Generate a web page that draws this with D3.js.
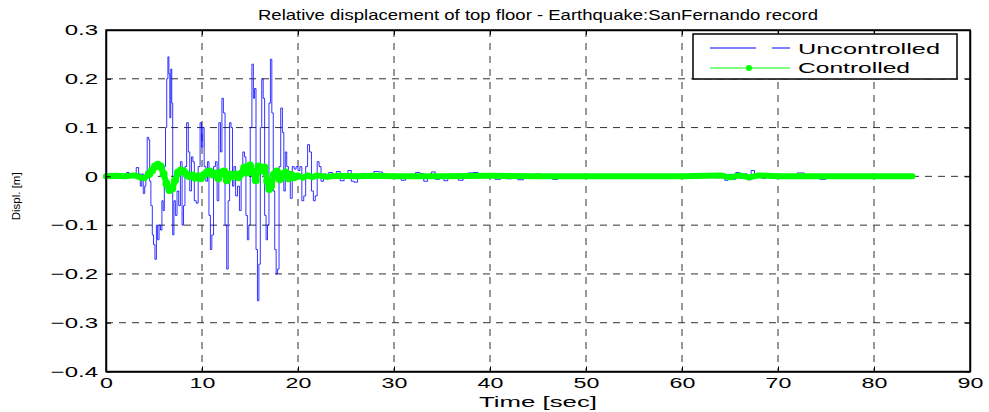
<!DOCTYPE html>
<html>
<head>
<meta charset="utf-8">
<script src="https://cdn.jsdelivr.net/npm/d3@7"></script>
<style>
  body { margin: 0; background: #fff; }
  svg { display: block; }
</style>
</head>
<body>
<div id="chart"></div>
<script>
// values: [time sec, displacement m]
const uncontrolled = [
  [0, 0], [0.5, 0.001], [1.0, 0], [1.5, 0.002], [2.0, 0.001], [2.3, 0.008], [2.5, 0.002],
  [3.0, 0.004], [3.3, 0.018], [3.5, 0.005], [3.65, -0.02], [3.8, 0.005], [3.96, -0.035],
  [4.1, -0.02], [4.2, 0.01], [4.38, 0.08], [4.5, 0.075], [4.6, -0.01], [4.75, -0.06],
  [4.9, -0.12], [5.0, -0.14], [5.2, -0.17], [5.3, -0.1], [5.45, -0.13], [5.6, -0.1],
  [5.75, -0.11], [5.9, -0.05], [6.0, -0.07], [6.15, 0.02], [6.25, 0.1], [6.4, 0.2],
  [6.5, 0.245], [6.6, 0.21], [6.7, 0.12], [6.8, 0.22], [6.9, 0.15], [7.0, -0.12],
  [7.15, -0.05], [7.3, -0.08], [7.5, -0.03], [7.65, -0.06], [7.85, 0.03], [8.0, -0.1],
  [8.15, -0.06], [8.3, 0.02], [8.5, 0.11], [8.65, 0.05], [8.8, -0.03], [9.0, 0.04],
  [9.1, 0.03], [9.3, -0.05], [9.5, -0.055], [9.7, 0.02], [9.9, 0.11], [10.0, 0.06],
  [10.15, 0.1], [10.3, 0.02], [10.5, -0.01], [10.65, 0.03], [10.8, -0.08], [10.95, -0.15],
  [11.1, -0.12], [11.3, 0.02], [11.5, 0.03], [11.65, -0.05], [11.85, 0.11], [12.0, 0.05],
  [12.15, 0.16], [12.3, 0.13], [12.5, -0.1], [12.65, -0.19], [12.8, -0.05], [12.95, 0.11],
  [13.1, 0.1], [13.25, -0.02], [13.4, 0.02], [13.6, -0.04], [13.8, -0.02], [14.0, -0.07],
  [14.15, 0.0], [14.35, 0.05], [14.5, 0.04], [14.65, -0.08], [14.8, -0.13], [14.95, -0.1],
  [15.1, 0.1], [15.3, 0.23], [15.4, 0.16], [15.55, 0.18], [15.7, -0.15], [15.85, -0.255],
  [16.0, -0.18], [16.15, 0.1], [16.3, 0.2], [16.45, 0.16], [16.6, -0.08], [16.75, -0.13],
  [16.9, -0.1], [17.05, 0.15], [17.2, 0.24], [17.35, 0.13], [17.5, -0.03], [17.65, -0.15],
  [17.8, -0.2], [17.95, -0.19], [18.1, 0.02], [18.3, 0.14], [18.45, 0.09], [18.6, -0.03],
  [18.75, 0.05], [18.9, 0.02], [19.1, 0.01], [19.3, -0.045], [19.5, 0.02], [19.7, 0.015],
  [19.9, 0.02], [20.1, 0.012], [20.3, 0.02], [20.5, -0.05], [20.7, -0.04], [20.9, 0.02],
  [21.1, 0.065], [21.3, 0.05], [21.5, -0.03], [21.7, -0.05], [21.9, -0.04], [22.1, 0.03],
  [22.3, 0.02], [22.5, -0.01], [22.8, 0.005], [23.0, -0.005], [23.4, 0.008], [23.8, -0.004],
  [24.2, 0.01], [24.6, -0.009], [25.0, 0.004], [25.4, 0.012], [25.7, -0.01], [26.0, -0.012],
  [26.4, 0.003], [26.8, 0.006], [27.2, -0.004], [27.6, 0.002], [28.2, 0.01], [28.6, 0.009],
  [29.0, -0.002], [29.5, 0.001], [30.0, -0.003], [30.5, 0.002], [31.0, -0.008], [31.4, -0.002],
  [32.0, 0.004], [32.5, 0.008], [32.9, 0.006], [33.3, -0.01], [33.7, 0.004], [34.1, 0.009],
  [34.5, -0.006], [35.0, 0.002], [35.4, -0.009], [35.8, 0.001], [36.4, 0.003], [37.0, -0.008],
  [37.4, -0.002], [38.0, 0.007], [38.5, 0.008], [39.0, 0.002], [39.6, -0.003], [40.2, 0.004],
  [40.8, -0.006], [41.4, 0.003], [42.0, -0.005], [42.6, 0.004], [43.2, -0.007], [43.8, 0.003],
  [44.4, -0.004], [45.0, 0.005], [45.6, -0.003], [46.2, 0.004], [46.8, -0.006], [47.4, 0.003],
  [48.0, -0.004], [48.6, 0.002], [49.5, -0.001], [50.5, 0.001], [51.5, -0.002], [52.5, 0.001],
  [53.5, -0.001], [55, 0.001], [57, 0], [59, 0.001], [61, -0.001], [63, 0.001], [64.0, -0.003],
  [64.3, 0.006], [64.6, -0.008], [65.0, 0.004], [65.4, -0.006], [65.8, 0.008], [66.2, -0.004],
  [66.6, 0.005], [67.0, -0.007], [67.4, 0.012], [67.7, -0.002], [68.1, 0.006], [68.5, -0.004],
  [69.0, 0.004], [69.5, -0.002], [70.5, 0.002], [71.5, -0.001], [72.5, 0.007], [73.0, 0],
  [74.0, -0.002], [74.7, -0.006], [75.3, 0.001], [77, 0], [80, 0.001], [84, 0]
];

const controlled = [
  [0, 0], [1, 0.001], [2, 0], [3, 0.002], [3.5, -0.002], [4.0, -0.004], [4.5, 0.005],
  [4.8, 0.012], [5.1, 0.02], [5.4, 0.024], [5.7, 0.02], [6.0, 0.005], [6.3, -0.015],
  [6.6, -0.028], [6.9, -0.025], [7.2, -0.008], [7.5, 0.008], [7.8, 0.012], [8.1, 0.01],
  [8.4, 0.004], [8.7, 0.0], [9.0, 0.002], [9.3, -0.003], [9.6, 0.0], [9.9, -0.004],
  [10.2, 0.003], [10.5, 0.008], [10.8, 0.01], [11.1, 0.004], [11.4, 0.006], [11.7, -0.004],
  [12.0, 0.008], [12.3, 0.01], [12.6, -0.008], [12.9, 0.004], [13.2, 0.0], [13.5, 0.004],
  [13.8, -0.002], [14.1, 0.006], [14.4, 0.018], [14.7, 0.008], [15.0, 0.022], [15.3, 0.01],
  [15.6, -0.008], [15.9, 0.02], [16.2, 0.012], [16.5, 0.018], [16.8, -0.01], [17.0, -0.026],
  [17.2, -0.02], [17.5, 0.004], [17.8, 0.01], [18.1, -0.006], [18.4, 0.004], [18.7, 0.008],
  [19.0, -0.004], [19.3, 0.003], [19.6, -0.002], [20.0, 0.002], [20.5, -0.003], [21.0, 0.002],
  [21.5, -0.002], [22.0, 0.002], [23.0, -0.001], [24.0, 0.001], [26, 0], [28, 0.001],
  [30, 0], [35, 0], [40, 0.001], [45, 0], [50, 0], [55, 0], [60, 0], [64, 0.002],
  [65, -0.002], [66, 0.002], [67, -0.002], [68, 0.002], [70, 0], [75, 0], [80, 0], [84, 0]
];

const xTicks = [0, 10, 20, 30, 40, 50, 60, 70, 80, 90];
const yTicks = [-0.4, -0.3, -0.2, -0.1, 0, 0.1, 0.2, 0.3];
const seriesNames = ["Uncontrolled", "Controlled"];

const width = 989, height = 412;
const plotL = 106, plotR = 970, plotT = 30, plotB = 371.5;
const font = "'Liberation Sans', Arial, Helvetica, sans-serif";

const x = d3.scaleLinear().domain([0, 90]).range([plotL, plotR]);
const y = d3.scaleLinear().domain([-0.4, 0.3]).range([plotB, plotT]);

const svg = d3.select("#chart").append("svg")
  .attr("width", width)
  .attr("height", height)
  .style("font-family", font);

// stretch text horizontally, matlab export looks wide
function stretch(sel, k, fixed) {
  sel.each(function () {
    const len = this.getComputedTextLength();
    this.setAttribute("textLength", fixed || len * k);
    this.setAttribute("lengthAdjust", "spacingAndGlyphs");
  });
}

// grid
const grid = svg.append("g")
  .attr("stroke", "#333")
  .attr("stroke-width", 1)
  .attr("stroke-dasharray", "7,6");
grid.selectAll(".gx")
  .data(xTicks.slice(1, -1))
  .join("line")
  .attr("x1", d => x(d)).attr("x2", d => x(d))
  .attr("y1", plotT).attr("y2", plotB);
grid.selectAll(".gy")
  .data(yTicks.slice(1, -1))
  .join("line")
  .attr("y1", d => y(d)).attr("y2", d => y(d))
  .attr("x1", plotL).attr("x2", plotR);

// lines
const line = d3.line().x(d => x(d[0])).y(d => y(d[1]));
const stepLine = d3.line().x(d => x(d[0])).y(d => y(d[1])).curve(d3.curveStep);

svg.append("path")
  .datum(uncontrolled)
  .attr("fill", "none")
  .attr("stroke", "#0000ff")
  .attr("stroke-width", 1)
  .attr("stroke-opacity", 0.8)
  .attr("d", stepLine);

svg.append("path")
  .datum(controlled)
  .attr("fill", "none")
  .attr("stroke", "#00ff00")
  .attr("stroke-width", 6)
  .attr("stroke-linejoin", "round")
  .attr("stroke-linecap", "round")
  .attr("d", line);

// '.' markers on the controlled curve
svg.append("g")
  .attr("fill", "#00ff00")
  .selectAll("circle")
  .data(controlled.filter(d => d[0] > 4 && d[0] < 20))
  .join("circle")
  .attr("cx", d => x(d[0]))
  .attr("cy", d => y(d[1]))
  .attr("r", 4);

// axes (ticks inward)
const xAxis = svg.append("g")
  .attr("transform", `translate(0,${plotB})`)
  .call(d3.axisBottom(x).tickValues(xTicks).tickSize(-5).tickSizeOuter(0).tickPadding(6));
const yAxis = svg.append("g")
  .attr("transform", `translate(${plotL},0)`)
  .call(d3.axisLeft(y).tickValues(yTicks).tickSize(-5).tickSizeOuter(0).tickPadding(8)
    .tickFormat(d => d === 0 ? "0" : d3.format(".1f")(d)));
svg.append("g")
  .attr("transform", `translate(0,${plotT})`)
  .call(d3.axisTop(x).tickValues(xTicks).tickSize(-5).tickSizeOuter(0).tickFormat(""));
svg.append("g")
  .attr("transform", `translate(${plotR},0)`)
  .call(d3.axisRight(y).tickValues(yTicks).tickSize(-5).tickSizeOuter(0).tickFormat(""));

svg.selectAll(".domain").attr("stroke", "#000").attr("stroke-width", 1.5);
svg.selectAll(".tick line").attr("stroke", "#000");
svg.selectAll(".tick text")
  .attr("font-family", font)
  .attr("font-size", 15)
  .attr("fill", "#000");
xAxis.selectAll(".tick text").call(stretch, 1.55);
yAxis.selectAll(".tick text").call(stretch, 1.6);

// box
svg.append("rect")
  .attr("x", plotL).attr("y", plotT)
  .attr("width", plotR - plotL).attr("height", plotB - plotT)
  .attr("fill", "none")
  .attr("stroke", "#000")
  .attr("stroke-width", 1.5);

// title and labels
svg.append("text")
  .attr("x", (plotL + plotR) / 2).attr("y", 20)
  .attr("text-anchor", "middle")
  .attr("font-size", 15)
  .text("Relative displacement of top floor - Earthquake:SanFernando record")
  .call(stretch, 1, 560);

svg.append("text")
  .attr("x", (plotL + plotR) / 2).attr("y", 407)
  .attr("text-anchor", "middle")
  .attr("font-size", 15)
  .text("Time [sec]")
  .call(stretch, 1, 118);

svg.append("text")
  .attr("transform", `translate(20,${y(0) + 20}) rotate(-90)`)
  .attr("text-anchor", "middle")
  .attr("font-size", 10)
  .text("Displ. [m]")
  .call(stretch, 1, 48);

// legend
const lg = svg.append("g");
lg.append("rect")
  .attr("x", 693).attr("y", 34)
  .attr("width", 264).attr("height", 45)
  .attr("fill", "#fff")
  .attr("stroke", "#000")
  .attr("stroke-width", 1.5);

lg.append("line").attr("x1", 710).attr("x2", 756).attr("y1", 48).attr("y2", 48)
  .attr("stroke", "#0000ff").attr("stroke-width", 1);
lg.append("line").attr("x1", 772).attr("x2", 790).attr("y1", 48).attr("y2", 48)
  .attr("stroke", "#0000ff").attr("stroke-width", 1);
lg.append("line").attr("x1", 710).attr("x2", 790).attr("y1", 68).attr("y2", 68)
  .attr("stroke", "#00ff00").attr("stroke-width", 1.2);
lg.append("circle").attr("cx", 749).attr("cy", 68).attr("r", 3)
  .attr("fill", "#00ff00");

const legendLen = [142, 112];
lg.selectAll(".lt")
  .data(seriesNames)
  .join("text")
  .attr("x", 798)
  .attr("y", (d, i) => 54 + i * 19)
  .attr("font-size", 15)
  .text(d => d)
  .each(function (d, i) {
    this.setAttribute("textLength", legendLen[i]);
    this.setAttribute("lengthAdjust", "spacingAndGlyphs");
  });
</script>
</body>
</html>
